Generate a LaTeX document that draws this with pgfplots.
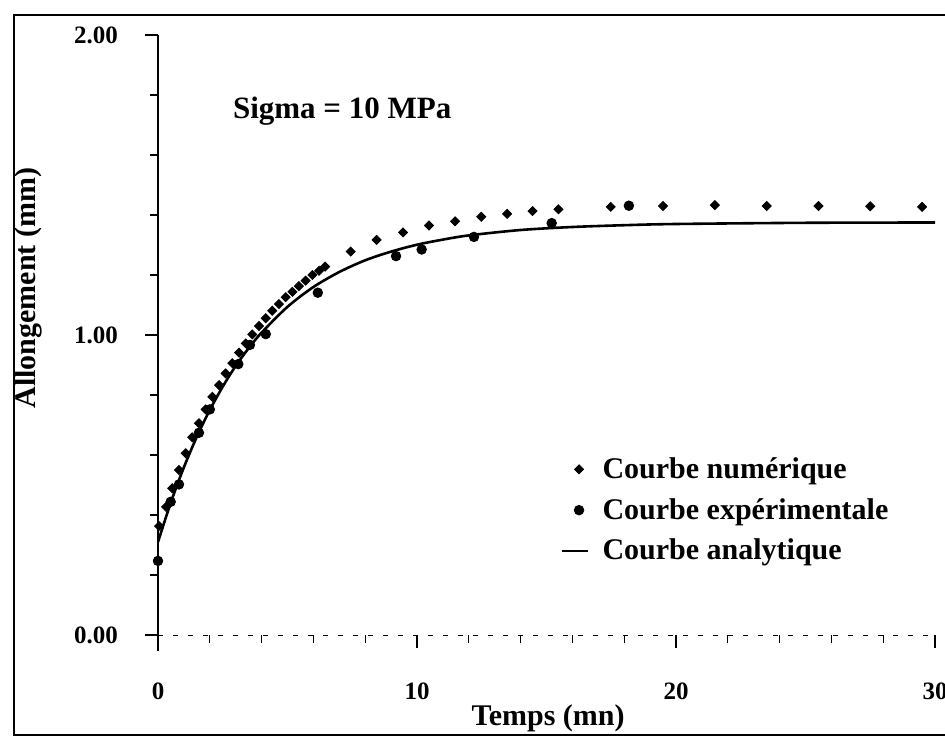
\documentclass[border=0pt]{standalone}
\usepackage{pgfplots}
\pgfplotsset{compat=1.18}
\usepackage{fontspec}
\setmainfont{Liberation Serif}

% legend images: a single mark with room after it, a short line
\pgfplotsset{
  markleg/.style={legend image code/.code={\path (0cm,0cm) (0.62cm,0cm);
      \draw[##1] plot coordinates {(0.3cm,0cm)};}},
  lineleg/.style={legend image code/.code={\path (0cm,0cm) (0.62cm,0cm);
      \draw[black, line width=0.8pt] (0cm,0cm) -- (0.45cm,0cm);}},
}

% numerical model: elongation versus time
\pgfplotstableread{
t     v
0.04  0.363
0.31  0.427
0.55  0.489
0.81  0.550
1.07  0.606
1.32  0.659
1.58  0.706
1.84  0.752
2.10  0.794
2.36  0.833
2.61  0.872
2.87  0.906
3.13  0.941
3.39  0.972
3.64  1.002
3.90  1.030
4.16  1.056
4.41  1.081
4.67  1.103
4.93  1.126
5.19  1.144
5.44  1.163
5.70  1.181
5.96  1.200
6.22  1.214
6.45  1.228
7.44  1.278
8.44  1.317
9.46  1.342
10.46 1.365
11.47 1.379
12.48 1.394
13.48 1.404
14.46 1.413
15.46 1.419
17.48 1.427
19.50 1.430
21.50 1.433
23.50 1.430
25.50 1.430
27.50 1.429
29.50 1.427
}\numtab

% measurements
\pgfplotstableread{
t     v
0.00  0.247
0.49  0.444
0.81  0.502
1.58  0.674
2.00  0.752
3.10  0.903
3.55  0.967
4.16  1.003
6.17  1.141
9.19  1.263
10.18 1.285
12.20 1.327
15.20 1.373
18.18 1.431
}\exptab

% analytical solution
\pgfplotstableread{
t     v
0     0.310
0.5   0.443
1     0.559
1.5   0.661
2     0.750
2.5   0.828
3     0.897
3.5   0.956
4     1.008
5     1.094
6     1.160
7     1.210
8     1.249
9     1.278
10    1.301
11    1.318
12    1.332
14    1.350
16    1.360
18    1.366
20    1.370
25    1.374
30    1.375
}\anatab

\begin{document}
\begin{tikzpicture}
  \useasboundingbox (0pt,0pt) rectangle (472.5pt,372.5pt);
  % outer frame
  \draw[line width=1.2pt] (472.5pt,365pt) -- (7pt,365pt) -- (7pt,5pt) -- (472.5pt,5pt);

  \begin{axis}[
    at={(79pt,55pt)}, anchor=south west,
    scale only axis, width=388.5pt, height=300pt,
    xmin=0, xmax=30, ymin=0, ymax=2,
    axis x line*=bottom, axis y line*=left,
    x axis line style={line width=0.4pt, dash pattern=on 2.5pt off 5pt},
    y axis line style={line width=0.9pt, shorten <=-8pt},
    tick align=outside,
    major tick length=6.5pt, minor tick length=4pt,
    every tick/.style={black, line width=0.6pt},
    xtick={0,10,20,30}, xticklabels={0,10,20,30},
    minor xtick={2,4,6,8,12,14,16,18,22,24,26,28},
    ytick={0,1,2}, yticklabels={0.00,1.00,2.00},
    minor ytick={0.2,0.4,0.6,0.8,1.2,1.4,1.6,1.8},
    tick label style={font=\fontsize{12.5}{14}\selectfont\bfseries},
    xticklabel style={yshift=-14pt},
    yticklabel style={xshift=-10pt},
    xlabel={Temps (mn)}, ylabel={Allongement (mm)},
    label style={font=\fontsize{15}{18}\selectfont\bfseries},
    xlabel style={at={(axis description cs:0.502,-0.138)}, anchor=center},
    ylabel style={at={(axis description cs:-0.167,0.578)}, anchor=center},
    legend style={at={(axis description cs:0.51,0.31)}, anchor=north west,
      draw=none, fill=none, font=\fontsize{15}{18}\selectfont\bfseries,
      row sep=4.5pt, cells={anchor=west}},
    legend cell align=left,
  ]
    \addplot[only marks, mark=square*, mark size=1.6pt,
      mark options={rotate=45, fill=black}, markleg]
      table[x=t, y=v] {\numtab};
    \addlegendentry{Courbe numérique}
    \addplot[only marks, mark=*, mark size=2.4pt,
      mark options={fill=black}, markleg]
      table[x=t, y=v] {\exptab};
    \addlegendentry{Courbe expérimentale}
    \addplot[black, line width=1.3pt, smooth, no marks, lineleg]
      table[x=t, y=v] {\anatab};
    \addlegendentry{Courbe analytique}
  \end{axis}

  \node[anchor=west, font=\fontsize{15.5}{18}\selectfont\bfseries]
    at (113pt,317pt) {Sigma = 10 MPa};
\end{tikzpicture}
\end{document}
